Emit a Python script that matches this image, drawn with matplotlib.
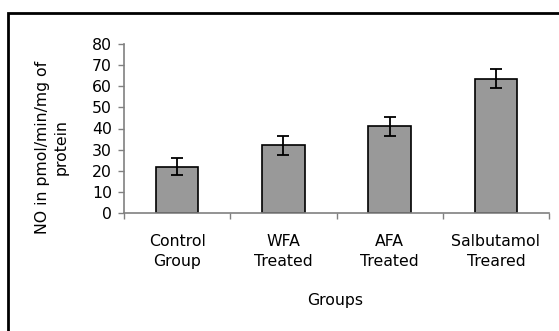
import matplotlib
matplotlib.use("Agg")
import matplotlib.pyplot as plt
from matplotlib.patches import Rectangle

categories = ["Control\nGroup", "WFA\nTreated", "AFA\nTreated", "Salbutamol\nTreared"]
values = [22, 32, 41, 63.5]
errors = [4, 4.5, 4.5, 4.5]
yticks = [0, 10, 20, 30, 40, 50, 60, 70, 80]

plt.rcParams['font.family'] = ['DejaVu Sans']
FS = 11.3

W, H = 559, 331
fig = plt.figure(figsize=(W / 100, H / 100), dpi=100)
fig.patch.set_facecolor("white")

# outer frame (only top/left visible in reference)
fig.add_artist(Rectangle((8 / W, -0.05), 1.2, (H - 13) / H + 0.05, transform=fig.transFigure,
                         fill=False, edgecolor="black", linewidth=2))

ax = fig.add_axes([124 / W, (H - 213) / H, (549 - 124) / W, (213 - 44) / H])
x = list(range(len(categories)))
ax.bar(x, values, width=0.4, color="#999999", edgecolor="black", linewidth=1.2, zorder=2)
ax.errorbar(x, values, yerr=errors, fmt="none", ecolor="black", elinewidth=1.3,
            capsize=4.5, capthick=1.3, zorder=3)

ax.set_xlim(-0.5, len(categories) - 0.5)
ax.set_ylim(0, 80)
ax.set_yticks(yticks)
ax.set_yticklabels([str(v) for v in yticks], fontsize=FS)
ax.tick_params(axis="y", direction="out", length=4.3, width=1, color="#808080", pad=4.5)

ax.set_xticks([i - 0.5 for i in range(len(categories) + 1)])
ax.set_xticklabels([])
ax.set_xticks(x, minor=True)
ax.set_xticklabels(categories, minor=True, fontsize=FS, linespacing=1.4)
ax.tick_params(axis="x", which="major", direction="out", length=4.5, width=1, color="#808080")
ax.tick_params(axis="x", which="minor", length=0, pad=15)

for s in ["top", "right"]:
    ax.spines[s].set_visible(False)
for s in ["left", "bottom"]:
    ax.spines[s].set_color("#808080")
    ax.spines[s].set_linewidth(1.2)

fig.text(52 / W, 1 - 147 / H, "NO in pmol/min/mg of\nprotein", rotation=90,
         ha="center", va="center", fontsize=FS, linespacing=1.35, multialignment="center")
fig.text(335 / W, 1 - 301 / H, "Groups", ha="center", va="center", fontsize=FS)

fig.savefig("out.png", dpi=100)
